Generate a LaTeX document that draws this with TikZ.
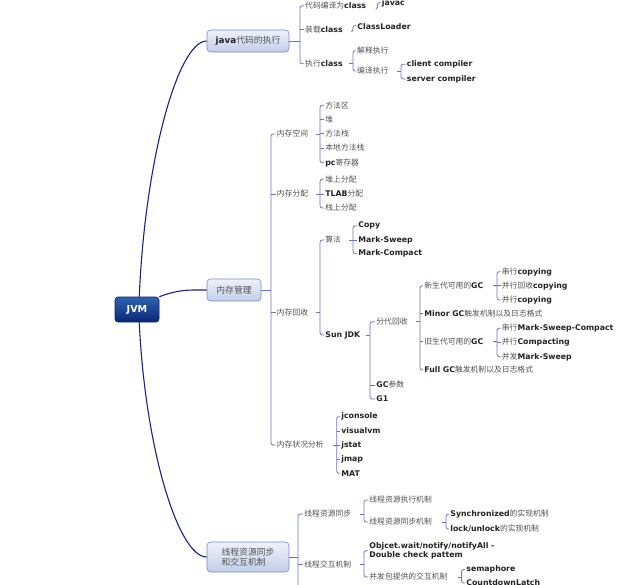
\documentclass[tikz,border=0pt]{standalone}
\usepackage{fontspec}
\setmainfont{DejaVu Sans}
\newfontfamily\cjk{Noto Sans CJK SC}
\usetikzlibrary{calc}
\definecolor{trunkc}{RGB}{28,36,130}
\definecolor{brc}{RGB}{108,114,194}
\definecolor{zhc}{RGB}{82,82,82}
\definecolor{ltc}{RGB}{35,35,35}
\definecolor{jvmtop}{RGB}{48,98,178}
\definecolor{jvmbot}{RGB}{10,40,118}
\definecolor{jvmdraw}{RGB}{15,35,100}
\definecolor{boxtop}{RGB}{238,242,250}
\definecolor{boxbot}{RGB}{192,206,232}
\definecolor{boxdraw}{RGB}{122,140,196}
\newcommand\zh[1]{{\cjk\color{zhc}#1}}
\newcommand\lt[1]{{\bfseries\color{ltc}#1}}
% parent tick + bracket from first to last child
\newcommand\fk[4]{%
  \draw[brk] ($(#2,0 |- #1.east)+(-4,0)$) -- (#2,0 |- #1.east);
  \draw[brk,rounded corners=2.2pt] (#3.west) -- (#2,0 |- #3.west) -- (#2,0 |- #4.west) -- (#4.west);}
% middle child tick
\newcommand\tk[2]{\draw[brk] (#1,0 |- #2.west) -- (#2.west);}
% single-child hook
\newcommand\hk[1]{\draw[brk] ($(#1.west)+(-4.5,5.5)$) .. controls +(1.2,-0.5) and +(0,2.5) .. ($(#1.west)+(-3,1)$) .. controls +(0,-1.5) and +(-1.5,0) .. ($(#1.west)+(0,-1)$);}
\begin{document}
\begin{tikzpicture}[x=1pt,y=-1pt,
  lbl/.style={anchor=west,inner xsep=1.2pt,inner ysep=1pt,font=\fontsize{7.8}{9.4}\selectfont},
  brk/.style={draw=brc,line width=0.8pt},
  trunk/.style={draw=trunkc,line width=1.1pt},
  topic/.style={draw=boxdraw,line width=0.6pt,rounded corners=3.5pt,top color=boxtop,bottom color=boxbot,
    font=\fontsize{8.8}{10.6}\selectfont,inner sep=0pt,align=left},
  root/.style={draw=jvmdraw,line width=0.6pt,rounded corners=3pt,top color=jvmtop,bottom color=jvmbot,
    text=white,font=\bfseries\fontsize{9.6}{11}\selectfont,minimum width=44,minimum height=25,inner sep=0pt}]
\useasboundingbox (0,0) rectangle (639,584);
\clip (0,0) rectangle (639,584);
\fill[white] (0,0) rectangle (639,584);

% main topics
\node[root] (jvm) at (137,309.5) {JVM};
\node[topic,minimum width=82,minimum height=22] (java) at (248,41) {\lt{java}\zh{代码的执行}};
\node[topic,minimum width=54,minimum height=22] (mem) at (234,290) {\zh{内存管理}};
\node[topic,minimum width=82,minimum height=30] (thr) at (248,557) {\zh{线程资源同步}\\\zh{和交互机制}};

\draw[trunk] (jvm.80) .. controls (145,160) and (178,41) .. (java.west);
\draw[trunk] (jvm.north east) .. controls (180,289) and (190,290) .. (mem.west);
\draw[trunk] (jvm.-80) .. controls (145,447) and (178,557) .. (thr.west);

% ---------- java branch
\node[lbl] (a1) at (303.8,5.7) {\zh{代码编译为}\lt{class}};
\node[lbl] (a2) at (303.8,29.3) {\zh{装载}\lt{class}};
\node[lbl] (a3) at (303.8,63.8) {\zh{执行}\lt{class}};
\draw[brk] (java.east) -- (300,0 |- java.east);
\draw[brk,rounded corners=2.2pt] (a1.west) -- (300,0 |- a1.west) -- (300,0 |- a3.west) -- (a3.west);
\tk{300}{a2}
\node[lbl] (a11) at (380.5,3.5) {\lt{javac}};
\hk{a11}
\node[lbl] (a21) at (356,26.5) {\lt{ClassLoader}};
\hk{a21}
\node[lbl] (a31) at (355.8,50.7) {\zh{解释执行}};
\node[lbl] (a32) at (355.8,71) {\zh{编译执行}};
\fk{a3}{353}{a31}{a32}
\node[lbl] (a321) at (405.5,64.3) {\lt{client compiler}};
\node[lbl] (a322) at (405.5,79) {\lt{server compiler}};
\fk{a32}{401}{a321}{a322}

% ---------- memory branch
\node[lbl] (m1) at (275.5,134) {\zh{内存空间}};
\node[lbl] (m2) at (275.5,194) {\zh{内存分配}};
\node[lbl] (m3) at (275.5,312.5) {\zh{内存回收}};
\node[lbl] (m4) at (275.5,445) {\zh{内存状况分析}};
\draw[brk] (mem.east) -- (271,0 |- mem.east);
\draw[brk,rounded corners=2.2pt] (m1.west) -- (271,0 |- m1.west) -- (271,0 |- m4.west) -- (m4.west);
\tk{271}{m2}
\tk{271}{m3}

\node[lbl] (m11) at (324,105.3) {\zh{方法区}};
\node[lbl] (m12) at (324,119.3) {\zh{堆}};
\node[lbl] (m13) at (324,133.7) {\zh{方法栈}};
\node[lbl] (m14) at (324,148) {\zh{本地方法栈}};
\node[lbl] (m15) at (324,162.7) {\lt{pc}\zh{寄存器}};
\fk{m1}{320}{m11}{m15}
\tk{320}{m12}\tk{320}{m13}\tk{320}{m14}

\node[lbl] (m21) at (324,179.3) {\zh{堆上分配}};
\node[lbl] (m22) at (324,194) {\lt{TLAB}\zh{分配}};
\node[lbl] (m23) at (324,208) {\zh{栈上分配}};
\fk{m2}{320}{m21}{m23}
\tk{320}{m22}

\node[lbl] (m31) at (324,240) {\zh{算法}};
\node[lbl] (m32) at (324,335) {\lt{Sun JDK}};
\fk{m3}{320}{m31}{m32}

\node[lbl] (m311) at (357,225.7) {\lt{Copy}};
\node[lbl] (m312) at (357,240) {\lt{Mark-Sweep}};
\node[lbl] (m313) at (357,253.7) {\lt{Mark-Compact}};
\fk{m31}{353}{m311}{m313}
\tk{353}{m312}

\node[lbl] (m321) at (375,321.7) {\zh{分代回收}};
\node[lbl] (m322) at (375,385) {\lt{GC}\zh{参数}};
\node[lbl] (m323) at (375,399) {\lt{G1}};
\fk{m32}{370}{m321}{m323}
\tk{370}{m322}

\node[lbl] (g1) at (423,285.7) {\zh{新生代可用的}\lt{GC}};
\node[lbl] (g2) at (423,313.3) {\lt{Minor GC}\zh{触发机制以及日志格式}};
\node[lbl] (g3) at (423,341.7) {\zh{旧生代可用的}\lt{GC}};
\node[lbl] (g4) at (423,370) {\lt{Full GC}\zh{触发机制以及日志格式}};
\fk{m321}{420}{g1}{g4}
\tk{420}{g2}\tk{420}{g3}

\node[lbl] (g11) at (500.5,271.7) {\zh{串行}\lt{copying}};
\node[lbl] (g12) at (500.5,285.7) {\zh{并行回收}\lt{copying}};
\node[lbl] (g13) at (500.5,300) {\zh{并行}\lt{copying}};
\fk{g1}{497}{g11}{g13}
\tk{497}{g12}

\node[lbl] (g31) at (500.5,328.3) {\zh{串行}\lt{Mark-Sweep-Compact}};
\node[lbl] (g32) at (500.5,342.3) {\zh{并行}\lt{Compacting}};
\node[lbl] (g33) at (500.5,356.7) {\zh{并发}\lt{Mark-Sweep}};
\fk{g3}{497}{g31}{g33}
\tk{497}{g32}

\node[lbl] (m41) at (340,416.7) {\lt{jconsole}};
\node[lbl] (m42) at (340,431) {\lt{visualvm}};
\node[lbl] (m43) at (340,445.3) {\lt{jstat}};
\node[lbl] (m44) at (340,459.3) {\lt{jmap}};
\node[lbl] (m45) at (340,473.3) {\lt{MAT}};
\fk{m4}{336.7}{m41}{m45}
\tk{336.7}{m42}\tk{336.7}{m43}\tk{336.7}{m44}

% ---------- thread branch
\node[lbl] (t1) at (303,514) {\zh{线程资源同步}};
\node[lbl] (t2) at (303,564.3) {\zh{线程交互机制}};
\coordinate (tend) at (298,600);
\draw[brk] (thr.east) -- (298,0 |- thr.east);
\draw[brk,rounded corners=2.2pt] (t1.west) -- (298,0 |- t1.west) -- (tend);
\tk{298}{t2}

\node[lbl] (t11) at (368,500) {\zh{线程资源执行机制}};
\node[lbl] (t12) at (368,522) {\zh{线程资源同步机制}};
\fk{t1}{364}{t11}{t12}

\node[lbl] (t121) at (449,514.3) {\lt{Synchronized}\zh{的实现机制}};
\node[lbl] (t122) at (449,529) {\lt{lock/unlock}\zh{的实现机制}};
\fk{t12}{446}{t121}{t122}

\node[lbl,align=left] (t21) at (368,550.7) {\lt{Objcet.wait/notify/notifyAll -}\\\lt{Double check pattem}};
\node[lbl] (t22) at (368,577) {\zh{并发包提供的交互机制}};
\fk{t2}{364}{t21}{t22}

\node[lbl] (t221) at (465,569.5) {\lt{semaphore}};
\node[lbl] (t222) at (465,583) {\lt{CountdownLatch}};
\fk{t22}{461.5}{t221}{t222}
\end{tikzpicture}
\end{document}
